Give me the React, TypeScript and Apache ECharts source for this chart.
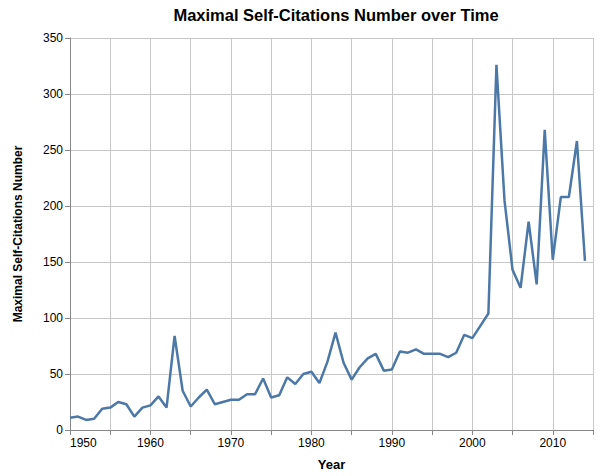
import React, { useEffect, useRef } from "react";
import * as echarts from "echarts";

const years: number[] = [];
for (let y = 1950; y <= 2014; y++) years.push(y);

const values: number[] = [
  11, 12, 9, 10, 19, 20, 25, 23, 12, 20, // 1950-1959
  22, 30, 20, 84, 35, 21, 29, 36, 23, 25, // 1960-1969
  27, 27, 32, 32, 46, 29, 31, 47, 41, 50, // 1970-1979
  52, 42, 61, 87, 60, 45, 56, 64, 68, 53, // 1980-1989
  54, 70, 69, 72, 68, 68, 68, 65, 69, 85, // 1990-1999
  82, 93, 104, 326, 205, 143, 127, 186, 130, 268, // 2000-2009
  152, 208, 208, 258, 151, // 2010-2014
];

const yTicks = [0, 50, 100, 150, 200, 250, 300, 350];

const FONT = "Liberation Sans, Arial, Helvetica, sans-serif";

export default function App() {
  const ref = useRef<HTMLDivElement>(null);
  useEffect(() => {
    if (!ref.current) return;
    const chart = echarts.init(ref.current, undefined, { renderer: "svg" });
    const data = years.map((y, i) => [y, values[i]]);
    chart.setOption({
      animation: false,
      backgroundColor: "#ffffff",
      title: {
        text: "Maximal Self-Citations Number over Time",
        left: 331,
        top: 1,
        textAlign: "center",
        textStyle: { fontFamily: FONT, fontSize: 16.5, fontWeight: "bold", color: "#000" },
      },
      grid: { left: 70, right: 7, top: 38, bottom: 45.5, containLabel: false },
      xAxis: {
        type: "value",
        min: 1950,
        max: 2015,
        interval: 5,
        name: "Year",
        nameLocation: "middle",
        nameGap: 28,
        nameTextStyle: { fontFamily: FONT, fontSize: 13, fontWeight: "bold", color: "#000" },
        axisLine: { show: true, lineStyle: { color: "#888", width: 1 } },
        axisTick: { show: true, length: 5, lineStyle: { color: "#888" } },
        splitLine: { show: true, lineStyle: { color: "#c8c8c8", width: 1 } },
        axisLabel: {
          fontFamily: FONT,
          fontSize: 12,
          color: "#000",
          margin: 7,
          alignMinLabel: "left",
          formatter: (v: number) => (v % 10 === 0 && v < 2015 ? String(v) : ""),
        },
      },
      yAxis: {
        type: "value",
        min: yTicks[0],
        max: yTicks[yTicks.length - 1],
        interval: 50,
        name: "Maximal Self-Citations Number",
        nameLocation: "middle",
        nameGap: 46,
        nameRotate: 90,
        nameTextStyle: { fontFamily: FONT, fontSize: 12, fontWeight: "bold", color: "#000" },
        axisLine: { show: true, lineStyle: { color: "#888", width: 1 } },
        axisTick: { show: true, length: 5, lineStyle: { color: "#888" } },
        splitLine: { show: true, lineStyle: { color: "#c8c8c8", width: 1 } },
        axisLabel: { fontFamily: FONT, fontSize: 12, color: "#000", margin: 7 },
      },
      series: [
        {
          type: "line",
          data,
          showSymbol: false,
          symbol: "none",
          lineStyle: { color: "#4c78a8", width: 2.5 },
          itemStyle: { color: "#4c78a8" },
        },
      ],
    });
    return () => chart.dispose();
  }, []);
  return <div ref={ref} style={{ width: 600, height: 476, position: "absolute", left: 0, top: 0 }} />;
}
